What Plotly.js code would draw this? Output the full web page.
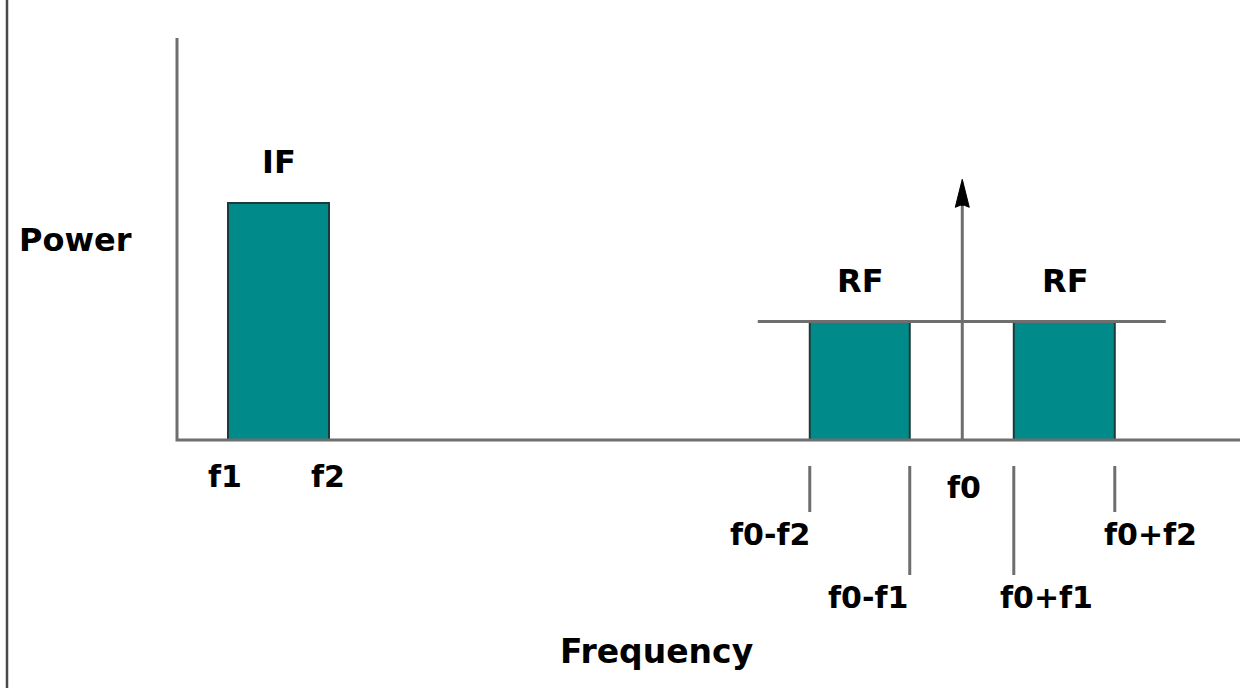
<!DOCTYPE html>
<html>
<head>
<meta charset="utf-8">
<script src="https://cdn.plot.ly/plotly-3.0.1.min.js"></script>
<style>
  html, body { margin: 0; padding: 0; background: #ffffff; }
  #chart { width: 1245px; height: 688px; }
</style>
</head>
<body>
<div id="chart"></div>
<script>
// ---------------- data ----------------
const freqLabels = ['f1', 'f2', 'f0-f2', 'f0-f1', 'f0', 'f0+f1', 'f0+f2'];
const freqValues = [1, 2, 6.76, 7.75, 8.27, 8.78, 9.78];
const bandNames = ['IF', 'RF', 'RF'];
const bandLow = [1, 6.76, 8.78];
const bandHigh = [2, 7.75, 9.78];
const bandPower = [1.0, 0.5, 0.5];
const carrierFreq = 8.27;
const carrierPower = 1.1;
const rfLevelPower = 0.5;
const axisTitleX = 'Frequency';
const axisTitleY = 'Power';

// ---------------- geometry helpers (layout only) ----------------
const W = 1245, H = 688;
const X0PX = 228, XUNIT = 101;   // pixel of f1, pixels per frequency unit
const Y0PX = 440, YUNIT = 237;   // pixel of zero power, pixels per power unit
const px2x = px => 1 + (px - X0PX) / XUNIT;
const py2y = py => (Y0PX - py) / YUNIT;
const dxPx = d => d / XUNIT;
const dyPx = d => d / YUNIT;

const LINE = '#6e6e6e';
const TEAL = '#008b8a';
const EDGE = '#1d3a3a';
const FONT = { family: 'DejaVu Sans, Arial, sans-serif', weight: 'bold', color: '#000000' };

const traces = [];

// bands as bars
traces.push({
  type: 'bar',
  x: bandLow.map((lo, i) => (lo + bandHigh[i]) / 2),
  y: bandPower,
  width: bandLow.map((lo, i) => bandHigh[i] - lo),
  base: 0,
  marker: { color: TEAL, line: { color: EDGE, width: 2 } },
  hoverinfo: 'skip',
  showlegend: false
});

// axes
const axisX = px2x(177);
traces.push({
  type: 'scatter', mode: 'lines',
  x: [axisX, axisX, px2x(1240)],
  y: [py2y(38), 0, 0],
  line: { color: LINE, width: 3 },
  hoverinfo: 'skip', showlegend: false
});

// RF level line
const rfLo = Math.min(...bandLow.slice(1));
const rfHi = Math.max(...bandHigh.slice(1));
traces.push({
  type: 'scatter', mode: 'lines',
  x: [rfLo - dxPx(52), rfHi + dxPx(51)],
  y: [rfLevelPower, rfLevelPower],
  line: { color: LINE, width: 3 },
  hoverinfo: 'skip', showlegend: false
});

// carrier line
traces.push({
  type: 'scatter', mode: 'lines',
  x: [carrierFreq, carrierFreq],
  y: [0, carrierPower - dyPx(20)],
  line: { color: LINE, width: 3 },
  hoverinfo: 'skip', showlegend: false
});
// carrier arrow head
traces.push({
  type: 'scatter', mode: 'lines', fill: 'toself',
  x: [carrierFreq, carrierFreq - dxPx(7), carrierFreq - dxPx(2), carrierFreq + dxPx(2), carrierFreq + dxPx(7), carrierFreq],
  y: [carrierPower, carrierPower - dyPx(28), carrierPower - dyPx(26), carrierPower - dyPx(26), carrierPower - dyPx(28), carrierPower],
  fillcolor: '#000000',
  line: { color: '#000000', width: 1 },
  hoverinfo: 'skip', showlegend: false
});

// tick marks below the axis for the RF edges
const tickTop = py2y(466);
const tickShort = py2y(512);
const tickLong = py2y(575);
const tickX = [], tickY = [];
freqLabels.forEach((lab, i) => {
  if (lab.length < 4) return;            // only f0±f1, f0±f2
  const long = lab.endsWith('f1');
  tickX.push(freqValues[i], freqValues[i], null);
  tickY.push(tickTop, long ? tickLong : tickShort, null);
});
traces.push({
  type: 'scatter', mode: 'lines',
  x: tickX, y: tickY,
  line: { color: LINE, width: 3 },
  connectgaps: false,
  hoverinfo: 'skip', showlegend: false
});

// ---------------- annotations ----------------
const annotations = [];
// label placement (pixel y centre, pixel x shift)
const labelPlace = {
  'f1':    { py: 476, sx: -3 },
  'f2':    { py: 476, sx: -1 },
  'f0':    { py: 487, sx: 2 },
  'f0-f2': { py: 534, sx: -40 },
  'f0-f1': { py: 597, sx: -42 },
  'f0+f1': { py: 597, sx: 33 },
  'f0+f2': { py: 534, sx: 36 }
};
freqLabels.forEach((lab, i) => {
  annotations.push({
    x: freqValues[i], y: py2y(labelPlace[lab].py),
    xref: 'x', yref: 'y', text: lab, showarrow: false,
    xanchor: 'center', yanchor: 'middle', xshift: labelPlace[lab].sx,
    font: Object.assign({}, FONT, { size: 30 })
  });
});
bandNames.forEach((name, i) => {
  const mid = (bandLow[i] + bandHigh[i]) / 2;
  annotations.push({
    x: mid, y: bandPower[i], xref: 'x', yref: 'y', text: name, showarrow: false,
    xanchor: 'center', yanchor: 'bottom', yshift: 20, xshift: i === 0 ? 0 : 1,
    font: Object.assign({}, FONT, { size: 32 })
  });
});
annotations.push({
  x: px2x(656), y: py2y(651), xref: 'x', yref: 'y', text: axisTitleX, showarrow: false,
  xanchor: 'center', yanchor: 'middle', font: Object.assign({}, FONT, { size: 33 })
});
annotations.push({
  x: px2x(75), y: py2y(240), xref: 'x', yref: 'y', text: axisTitleY, showarrow: false,
  xanchor: 'center', yanchor: 'middle', font: Object.assign({}, FONT, { size: 32 })
});

const layout = {
  width: W, height: H,
  margin: { l: 0, r: 0, t: 0, b: 0, pad: 0 },
  paper_bgcolor: '#ffffff', plot_bgcolor: '#ffffff',
  showlegend: false,
  xaxis: { range: [px2x(0), px2x(W)], visible: false, fixedrange: true },
  yaxis: { range: [py2y(H), py2y(0)], visible: false, fixedrange: true },
  annotations: annotations,
  shapes: [{
    type: 'line', xref: 'paper', yref: 'paper',
    x0: 7 / W, x1: 7 / W, y0: 0, y1: 1,
    line: { color: '#4a4a4a', width: 2.5 }
  }]
};

Plotly.newPlot('chart', traces, layout, { staticPlot: true, displayModeBar: false });
</script>
</body>
</html>
